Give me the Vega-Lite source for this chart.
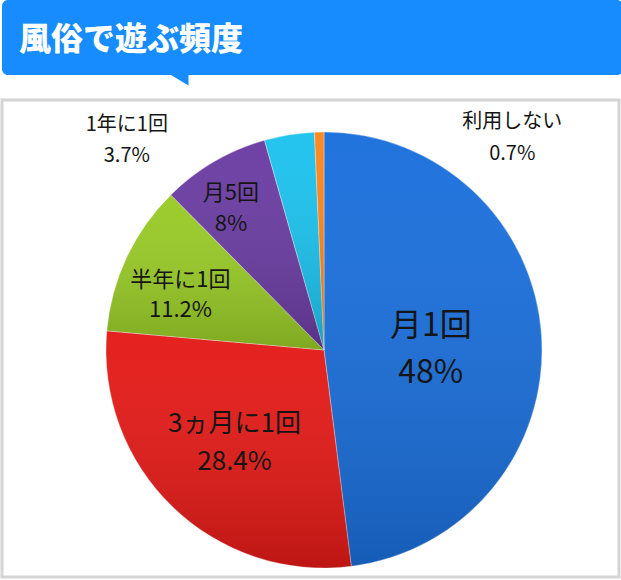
{
  "$schema": "https://vega.github.io/schema/vega-lite/v6.json",
  "background": "white",
  "padding": 0,
  "spacing": 25,
  "bounds": "flush",
  "config": {"view": {"stroke": null}, "font": "Noto Sans CJK JP"},
  "vconcat": [
    {
      "width": 621,
      "height": 75,
      "view": {"fill": "#168cff", "stroke": null, "cornerRadius": 6},
      "title": {
        "text": "風俗で遊ぶ頻度",
        "anchor": "start",
        "frame": "group",
        "offset": -57,
        "dx": 17,
        "color": "white",
        "fontSize": 32,
        "fontWeight": 900,
        "font": "Noto Sans CJK JP"
      },
      "data": {"values": [{}]},
      "mark": {
        "type": "point",
        "shape": "M-144,36 L-124,36 L-124,48 Z",
        "size": 4,
        "filled": true,
        "color": "#168cff",
        "opacity": 1
      }
    },
    {
      "width": 617,
      "height": 477,
      "view": {"stroke": "#d4d4d4", "strokeWidth": 3, "fill": "white"},
      "data": {
        "values": [
          {"cat": "月1回", "value": 48},
          {"cat": "3ヵ月に1回", "value": 28.4},
          {"cat": "半年に1回", "value": 11.2},
          {"cat": "月5回", "value": 8},
          {"cat": "1年に1回", "value": 3.7},
          {"cat": "利用しない", "value": 0.7}
        ]
      },
      "transform": [
        {"window": [{"op": "row_number", "as": "idx"}]},
        {"stack": "value", "groupby": [], "sort": [{"field": "idx", "order": "ascending"}], "as": ["v0", "v1"]},
        {"calculate": "(datum.v0 + datum.v1) / 2", "as": "mid"},
        {"calculate": "datum.cat + '\\n' + datum.value + '%'", "as": "label"}
      ],
      "layer": [
        {
          "mark": {
            "type": "arc",
            "radius": 218,
            "x": 322,
            "y": 250,
            "stroke": "#ffffff",
            "strokeOpacity": 0.35,
            "strokeWidth": 1
          },
          "encoding": {
            "theta": {"field": "v0", "type": "quantitative", "scale": {"domain": [0, 100], "nice": false, "zero": true}},
            "theta2": {"field": "v1"},
            "color": {
              "field": "cat",
              "type": "nominal",
              "scale": {
                "domain": ["月1回", "3ヵ月に1回", "半年に1回", "月5回", "1年に1回", "利用しない"],
                "range": ["#1a6fdc", "#e41a17", "#98ca26", "#6a3ca2", "#1cc2ee", "#fb861c"]
              },
              "legend": null
            }
          }
        },
        {
          "mark": {
            "type": "arc",
            "radius": 218,
            "x": 322,
            "y": 250,
            "fill": {
              "gradient": "linear",
              "x1": 0, "y1": 0, "x2": 0, "y2": 1,
              "stops": [
                {"offset": 0, "color": "rgba(255,255,255,0.03)"},
                {"offset": 1, "color": "rgba(0,0,0,0.17)"}
              ]
            }
          },
          "encoding": {
            "theta": {"field": "v0", "type": "quantitative", "scale": {"domain": [0, 100], "nice": false, "zero": true}},
            "theta2": {"field": "v1"}
          }
        },
        {
          "transform": [{"filter": "datum.cat === '月1回'"}],
          "mark": {"type": "text", "radius": 107, "x": 322, "y": 250, "dy": -17, "fontSize": 32, "lineHeight": 47, "lineBreak": "\n", "color": "#151515"},
          "encoding": {"theta": {"field": "mid", "type": "quantitative"}, "text": {"field": "label", "type": "nominal"}}
        },
        {
          "transform": [{"filter": "datum.cat === '3ヵ月に1回'"}],
          "mark": {"type": "text", "radius": 129, "x": 322, "y": 250, "dy": -19, "fontSize": 26, "lineHeight": 38, "lineBreak": "\n", "color": "#151515"},
          "encoding": {"theta": {"field": "mid", "type": "quantitative"}, "text": {"field": "label", "type": "nominal"}}
        },
        {
          "transform": [{"filter": "datum.cat === '半年に1回'"}],
          "mark": {"type": "text", "radius": 152, "x": 322, "y": 250, "dx": -6, "dy": -5, "fontSize": 22, "lineHeight": 30, "lineBreak": "\n", "color": "#151515"},
          "encoding": {"theta": {"field": "mid", "type": "quantitative"}, "text": {"field": "label", "type": "nominal"}}
        },
        {
          "transform": [{"filter": "datum.cat === '月5回'"}],
          "mark": {"type": "text", "radius": 165, "x": 322, "y": 250, "dx": -10, "dy": -14, "fontSize": 22, "lineHeight": 31, "lineBreak": "\n", "color": "#151515"},
          "encoding": {"theta": {"field": "mid", "type": "quantitative"}, "text": {"field": "label", "type": "nominal"}}
        },
        {
          "transform": [{"filter": "datum.cat === '1年に1回'"}],
          "mark": {"type": "text", "radius": 214, "x": 322, "y": 250, "dx": -163, "dy": -14, "fontSize": 20, "lineHeight": 31, "lineBreak": "\n", "color": "#151515"},
          "encoding": {"theta": {"field": "mid", "type": "quantitative"}, "text": {"field": "label", "type": "nominal"}}
        },
        {
          "transform": [{"filter": "datum.cat === '利用しない'"}],
          "mark": {"type": "text", "radius": 214, "x": 322, "y": 250, "dx": 193, "dy": -14, "fontSize": 20, "lineHeight": 32, "lineBreak": "\n", "color": "#151515"},
          "encoding": {"theta": {"field": "mid", "type": "quantitative"}, "text": {"field": "label", "type": "nominal"}}
        }
      ]
    }
  ]
}
